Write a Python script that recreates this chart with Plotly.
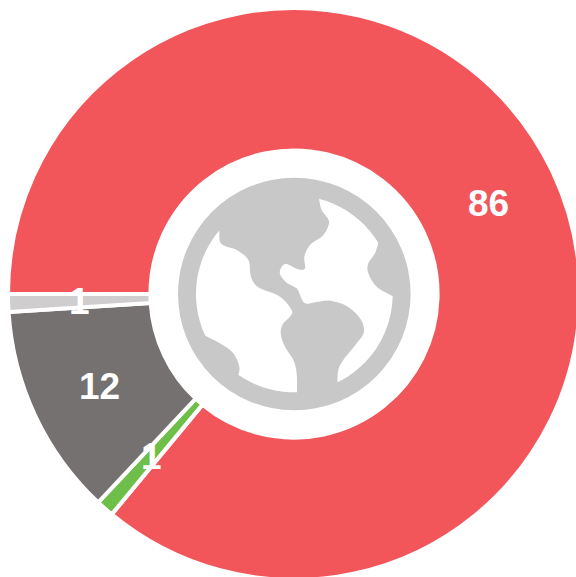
import math
import plotly.graph_objects as go

categories = ["Red", "Green", "Dark grey", "Light grey"]
values = [86, 1, 12, 1]
colors = ["#F2565B", "#6EBE4A", "#757170", "#CFCDCE"]
label_color = "#FFFFFF"
globe_color = "#C8C8C8"

W, H = 580, 580
L, T = 8, 8
CX, CY, R, HOLE = 294.0, 294.0, 286.0, 0.502


def px(x):
    return (x - L) / (W - L)


def py(y):
    return 1 - (y - T) / (H - T)


def z(p):
    return 170 + p[0] / 3, 170 + p[1] / 3


def arc(a0, a1, n=24):
    c, r = (373, 372), 295
    return [(c[0] + r * math.cos(math.radians(a0 + (a1 - a0) * i / n)),
             c[1] + r * math.sin(math.radians(a0 + (a1 - a0) * i / n))) for i in range(n + 1)]


def ang(p):
    return math.degrees(math.atan2(p[1] - 372, p[0] - 373))


def smooth(pts):
    out = []
    for i in range(len(pts) - 1):
        p0 = pts[max(i - 1, 0)]
        p1, p2 = pts[i], pts[i + 1]
        p3 = pts[min(i + 2, len(pts) - 1)]
        c1 = (p1[0] + (p2[0] - p0[0]) / 6, p1[1] + (p2[1] - p0[1]) / 6)
        c2 = (p2[0] - (p3[0] - p1[0]) / 6, p2[1] - (p3[1] - p1[1]) / 6)
        a, b, c = z(c1), z(c2), z(p2)
        out.append(f"C{px(a[0])},{py(a[1])} {px(b[0])},{py(b[1])} {px(c[0])},{py(c[1])}")
    return " ".join(out)


def region(curves):
    s = z(curves[0][0])
    return f"M{px(s[0])},{py(s[1])} " + " ".join(smooth(c) for c in curves) + " Z"


left_coast = [(381, 667), (380, 610), (370, 570), (345, 530), (332, 490), (340, 460), (360, 440), (365, 420),
              (330, 380), (265, 352), (243, 320), (235, 270), (200, 240), (165, 228), (150, 215), (148, 182)]
left_low = [(105, 498), (150, 520), (190, 550), (208, 590), (205, 615)]
right_a = [(625, 218), (615, 250), (595, 280), (595, 310), (620, 350), (668, 378)]
right_b = [(502, 636), (505, 600), (520, 570), (560, 520), (582, 485), (570, 445), (530, 408), (480, 392), (430, 398),
           (405, 400), (392, 380), (380, 355), (350, 338), (330, 312), (335, 290), (350, 282), (385, 298), (405, 295),
           (403, 260), (420, 225), (460, 195), (477, 155), (455, 120), (447, 87)]

white_left = [left_coast, arc(ang(left_coast[-1]), ang(left_low[0]) - 360 if ang(left_low[0]) > ang(left_coast[-1]) else ang(left_low[0])),
              left_low, arc(ang(left_low[-1]), ang(left_coast[0]))]
white_right = [right_a, arc(ang(right_a[-1]), ang(right_b[0])), right_b, arc(ang(right_b[-1]), ang(right_a[0]))]

shapes = [
    dict(type="circle", xref="paper", yref="paper", x0=px(294.3 - 116.3), x1=px(294.3 + 116.3),
         y0=py(294 + 116.3), y1=py(294 - 116.3), fillcolor=globe_color, line_width=0, layer="above"),
    dict(type="path", xref="paper", yref="paper", path=region(white_left), fillcolor="#FFFFFF", line_width=0, layer="above"),
    dict(type="path", xref="paper", yref="paper", path=region(white_right), fillcolor="#FFFFFF", line_width=0, layer="above"),
]

# value labels sit at the mid radius of each slice; full size even on thin slices
annotations = []
total = sum(values)
start = 270.0
mid_r = R * (1 + HOLE) / 2
for v in values:
    a = math.radians(start + 360 * v / total / 2)
    start += 360 * v / total
    annotations.append(dict(
        x=px(CX + mid_r * math.sin(a)), y=py(CY - mid_r * math.cos(a)), xref="paper", yref="paper",
        text=f"<b>{v}</b>", showarrow=False, xanchor="center", yanchor="middle", yshift=-1,
        font=dict(family="Liberation Sans, Arial, sans-serif", size=37, color=label_color)))

fig = go.Figure(go.Pie(
    labels=categories, values=values, sort=False, direction="clockwise", rotation=270, hole=HOLE,
    marker=dict(colors=colors, line=dict(color="#FFFFFF", width=4)),
    textinfo="none", showlegend=False, hoverinfo="label+value",
))
fig.update_layout(width=W, height=H, margin=dict(l=L, t=T, r=0, b=0), paper_bgcolor="#FFFFFF",
                  shapes=shapes, annotations=annotations, showlegend=False)
fig.write_html("out.html", config=dict(displayModeBar=False),
               post_script="document.body.style.margin='0';document.documentElement.style.overflow='hidden';document.body.style.overflow='hidden';")
